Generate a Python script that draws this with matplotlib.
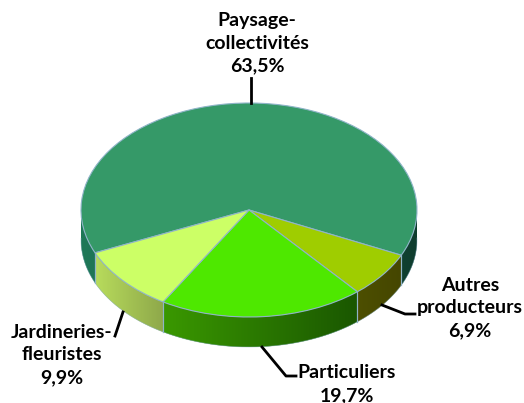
import numpy as np
from matplotlib import pyplot as plt
from matplotlib.colors import to_rgb

plt.rcParams['font.family'] = ['Lato', 'DejaVu Sans']

# data
names = ['Paysage-\ncollectivités', 'Autres\nproducteurs', 'Particuliers', 'Jardineries-\nfleuristes']
values = [63.5, 6.9, 19.7, 9.9]
top_colors = ['#359968', '#9fcd00', '#4ee800', '#ccff66']
side_left = ['#1f7858', '#4d4f00', '#3a9800', '#b8dc5c']
side_right = ['#0f3d2e', '#454600', '#1a5700', '#8ea84a']
edge_color = '#8fb4c8'

W, H = 524, 403
CX, CY, RX, RY, DEPTH = 249, 210, 168, 107, 30
START = -25 + 360 * values[0] / 100  # paysage ends at -25 deg


def px(x, y):
    # pixel position in the picture -> data units of the pie
    return (x - CX) / RX, (CY - y) / RY


fig = plt.figure(figsize=(W / 100, H / 100), dpi=100)
ax = fig.add_axes([0, 0, 1, 1])

# side of the pie, only the front half is visible
d = DEPTH / RY
a = START
for val, c1, c2 in zip(values, side_left, side_right):
    a2 = a - 360 * val / 100
    angs = np.arange(a, a2 - 0.25, -0.25)
    xs = np.cos(np.radians(angs))
    ys = np.sin(np.radians(angs))
    front = ys < 0.02
    if front.any():
        xa, ya = xs[front], ys[front]
        # paysage shows up on both sides, split where x jumps
        cuts = np.where(np.abs(np.diff(xa)) > 0.1)[0] + 1
        lo, hi = xa.min(), xa.max()
        for xp, yp in zip(np.split(xa, cuts), np.split(ya, cuts)):
            t0 = (xp.min() - lo) / (hi - lo)
            t1 = (xp.max() - lo) / (hi - lo)
            grad = np.linspace(t0, t1, 128)[None, :, None]
            img = (1 - grad) * np.array(to_rgb(c1)) + grad * np.array(to_rgb(c2))
            poly = ax.fill(np.r_[xp, xp[::-1]], np.r_[yp, yp[::-1] - d], color=img[0, 64], lw=0, zorder=1)[0]
            im = ax.imshow(img, extent=(xp.min(), xp.max(), yp.min() - d, yp.max()),
                           aspect='auto', zorder=1.5)
            im.set_clip_path(poly)
            ax.plot(xp, yp - d, color=edge_color, lw=0.5, alpha=0.6, zorder=2)
        # seams between the slices
        for e in (a, a2):
            ex, ey = np.cos(np.radians(e)), np.sin(np.radians(e))
            if ey < 0:
                ax.plot([ex, ex], [ey, ey - d], color=edge_color, lw=0.8, zorder=2)
    a = a2

wedges, _ = ax.pie(values, colors=top_colors, startangle=START, counterclock=False,
                   radius=1, wedgeprops=dict(edgecolor=edge_color, linewidth=0.8, zorder=3))

ax.set_aspect('auto')
ax.set_xlim(px(0, 0)[0], px(W, 0)[0])
ax.set_ylim(px(0, H)[1], px(0, 0)[1])
ax.axis('off')

# leader lines
leaders = [
    [(251, 78), (251, 103)],
    [(382, 305), (405, 314), (415, 314)],
    [(262, 347), (286, 376), (296, 376)],
    [(123, 312), (115, 336)],
]
for pts in leaders:
    lx, ly = zip(*[px(*p) for p in pts])
    ax.plot(lx, ly, color='black', lw=2, zorder=4, clip_on=False, solid_joinstyle='round')

# labels
label_pos = [(257, 43), (470, 308), (347, 384), (62, 355)]
for name, val, pos in zip(names, values, label_pos):
    txt = name + '\n' + str(val).replace('.', ',') + '%'
    ax.text(*px(*pos), txt, ha='center', va='center', fontsize=14, fontweight='bold',
            color='black', linespacing=1.42, zorder=5)

fig.savefig('out.png', dpi=100)
